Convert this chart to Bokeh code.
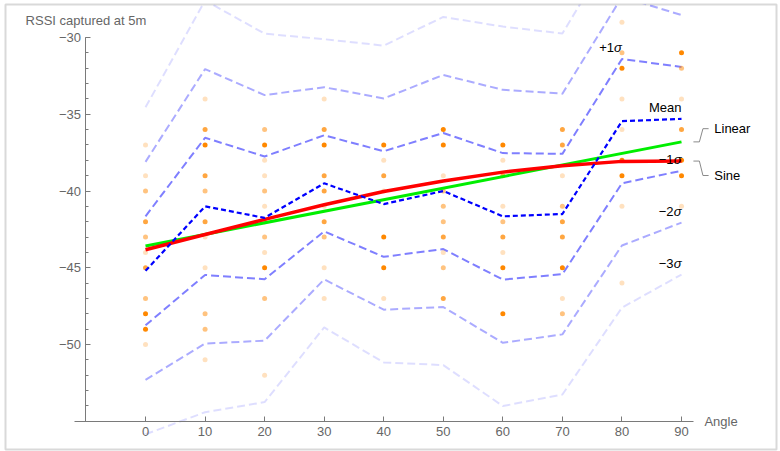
from bokeh.plotting import figure
from bokeh.models import LinearAxis, FixedTicker, Range1d, ColumnDataSource
from bokeh.core.properties import value
from bokeh.embed import file_html
from bokeh.resources import INLINE

# ---- data -------------------------------------------------------------
angles = [0, 10, 20, 30, 40, 50, 60, 70, 80, 90]
mean_rssi = [-45.2, -41.0, -41.75, -39.5, -40.85, -40.0, -41.65, -41.5, -35.45, -35.3]
sd_rssi = [3.55, 4.47, 4.0, 3.13, 3.44, 3.78, 4.12, 3.92, 4.05, 3.38]
sine_fit = [-43.83, -42.83, -41.85, -40.9, -40.03, -39.35, -38.77, -38.36, -38.07, -38.05]
linear_angles = [0, 90]
linear_fit = [-43.58, -36.8]

# individual RSSI readings (angle, value, how many times it was seen)
sample_angle = (
    [0] * 11 + [10] * 11 + [20] * 12 + [30] * 10 + [40] * 7
    + [50] * 10 + [60] * 9 + [70] * 9 + [80] * 9 + [90] * 7
)
sample_rssi = (
    [-37, -39, -40, -42, -43, -44, -45, -47, -48, -49, -50]
    + [-34, -36, -37, -39, -40, -42, -43, -45, -48, -49, -51]
    + [-36, -37, -38, -39, -40, -41, -42, -43, -44, -45, -47, -52]
    + [-34, -36, -37, -39, -40, -41, -42, -43, -45, -47]
    + [-37, -38, -39, -40, -43, -45, -47]
    + [-36, -37, -39, -40, -41, -42, -43, -44, -45, -47]
    + [-37, -38, -39, -41, -42, -43, -44, -45, -48]
    + [-36, -37, -39, -41, -42, -43, -45, -47, -48]
    + [-29, -31, -32, -34, -36, -38, -39, -41, -46]
    + [-31, -32, -34, -36, -38, -39, -41]
)
sample_count = (
    [1, 1, 2, 3, 2, 1, 3, 2, 4, 4, 1]
    + [1, 3, 4, 3, 2, 3, 1, 1, 2, 2, 1]
    + [2, 4, 1, 1, 2, 1, 2, 2, 1, 4, 2, 1]
    + [1, 3, 4, 3, 3, 1, 3, 2, 1, 1]
    + [4, 1, 3, 1, 4, 4, 1]
    + [4, 4, 1, 2, 2, 2, 3, 1, 2, 3]
    + [4, 1, 3, 1, 2, 3, 1, 4, 4]
    + [3, 3, 1, 2, 3, 3, 4, 1, 2]
    + [1, 2, 4, 1, 1, 4, 4, 1, 1]
    + [4, 2, 1, 3, 4, 4, 1]
)

x_ticks = [0, 10, 20, 30, 40, 50, 60, 70, 80, 90]
y_ticks = [-50, -45, -40, -35, -30]
y_tick_labels = ["\u221250", "\u221245", "\u221240", "\u221235", "\u221230"]

FONT = "Liberation Sans"
GRAY_TEXT = "#666666"
AXIS_GRAY = "#7a7a7a"

# ---- figure -----------------------------------------------------------
p = figure(
    width=780, height=451,
    x_range=Range1d(-23.51, 105.95), y_range=Range1d(-56.84, -27.85),
    x_axis_type=None, y_axis_type=None,
    toolbar_location=None, output_backend="svg",
    min_border_left=5, min_border_right=4, min_border_top=4, min_border_bottom=2,
)
p.outline_line_color = "#d9d9d9"
p.outline_line_width = 2
p.background_fill_color = "white"
p.border_fill_color = "white"

xaxis = LinearAxis(
    fixed_location=-55, bounds=(-12, 92),
    ticker=FixedTicker(ticks=x_ticks),
    axis_line_color=AXIS_GRAY, major_tick_line_color=AXIS_GRAY,
    major_tick_in=5, major_tick_out=0, minor_tick_in=0, minor_tick_out=0,
    major_label_text_font=FONT, major_label_text_font_size="13px",
    major_label_text_color=GRAY_TEXT, major_label_standoff=6,
)
p.add_layout(xaxis, "below")

yaxis = LinearAxis(
    fixed_location=-10, bounds=(-55, -30),
    ticker=FixedTicker(ticks=y_ticks, minor_ticks=list(range(-55, -29))),
    axis_line_color=AXIS_GRAY, major_tick_line_color=AXIS_GRAY,
    minor_tick_line_color=AXIS_GRAY,
    major_tick_in=5, major_tick_out=0, minor_tick_in=3, minor_tick_out=0,
    major_label_text_font=FONT, major_label_text_font_size="13px",
    major_label_text_color=GRAY_TEXT, major_label_standoff=5,
    major_label_overrides={t: s for t, s in zip(y_ticks, y_tick_labels)},
)
p.add_layout(yaxis, "left")

# ---- standard deviation bands ----------------------------------------
band_alpha = {1: 0.5, 2: 0.33, 3: 0.13}
bands = {}
for k, a in band_alpha.items():
    upper = [m + k * s for m, s in zip(mean_rssi, sd_rssi)]
    lower = [m - k * s for m, s in zip(mean_rssi, sd_rssi)]
    bands[k] = upper
    bands[-k] = lower
    for ys in (upper, lower):
        p.line(angles, ys, line_color="#0000ff", line_alpha=a,
               line_width=2, line_dash="8 4")

# ---- readings ---------------------------------------------------------
dots = ColumnDataSource(dict(
    x=sample_angle, y=sample_rssi,
    alpha=[0.25 * c for c in sample_count],
))
p.scatter("x", "y", source=dots, size=5, fill_color="#ff8800",
          fill_alpha="alpha", line_color=None)

# ---- fits and mean ----------------------------------------------------
p.line(linear_angles, linear_fit, line_color="#00ee00", line_width=3)
p.line(angles, sine_fit, line_color="#ff0000", line_width=3.5)
p.line(angles, mean_rssi, line_color="#0000ff", line_width=2.2, line_dash="5 3")

# ---- line labels ------------------------------------------------------
txt = dict(text_font=value(FONT), text_font_size="13px", text_color="black",
           text_baseline="middle")
sig_idx = [8, 9, 9, 9]
sig_keys = [1, -1, -2, -3]
sig_prefix = ["+1", "\u22121", "\u22122", "\u22123"]
sig_x = [angles[i] for i in sig_idx]
sig_y = [bands[k][i] for k, i in zip(sig_keys, sig_idx)]
p.text(sig_x, sig_y, text=["\u03c3"] * 4, text_align="right",
       y_offset=-11, text_font_style="italic", **txt)
p.text(sig_x, sig_y, text=sig_prefix, text_align="right",
       x_offset=-8, y_offset=-11, **txt)
p.text([angles[-1]], [mean_rssi[-1]], text=["Mean"], text_align="right",
       y_offset=-11, **txt)

# callouts for the two fits
call_names = ["Linear", "Sine"]
call_end = [linear_fit[-1], sine_fit[-1]]
call_shift = [0.86, -0.94]
for name, y0, dy in zip(call_names, call_end, call_shift):
    p.line([92.0, 93.0, 93.6, 94.55], [y0, y0, y0 + dy, y0 + dy],
           line_color="#8a8a8a", line_width=1)
    p.text([95.5], [y0 + dy], text=[name], text_align="left", **txt)

# axis captions
cap = dict(text_font=value(FONT), text_font_size="13px", text_color=GRAY_TEXT,
           text_baseline="middle")
p.text([92], [-55], text=["Angle"], text_align="left", x_offset=11, **cap)
p.text([-10], [-30], text=["RSSI captured at 5m"], text_align="center",
       y_offset=-17, **cap)

open("out.html", "w").write(file_html(p, INLINE))
